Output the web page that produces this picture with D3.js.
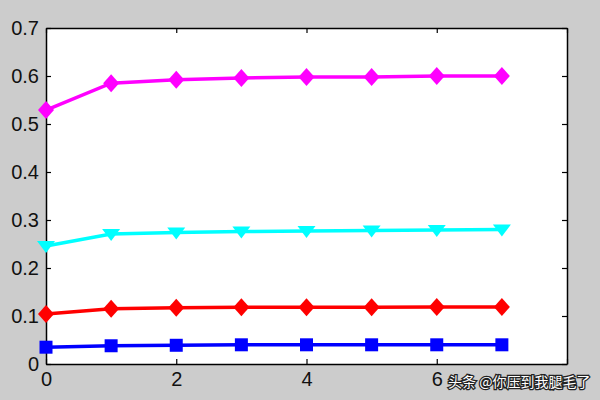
<!DOCTYPE html>
<html>
<head>
<meta charset="utf-8">
<script src="https://cdn.jsdelivr.net/npm/d3@7"></script>
<style>
  body { margin: 0; background: #cccccc; }
  text { font-family: "Liberation Sans", Arial, sans-serif; }
</style>
</head>
<body>
<div id="chart"></div>
<script>
// --- data ---
const xs = [0, 1, 2, 3, 4, 5, 6, 7];
const magenta = [0.529, 0.585, 0.592, 0.596, 0.598, 0.598, 0.600, 0.600];
const cyan    = [0.246, 0.271, 0.274, 0.276, 0.277, 0.278, 0.279, 0.280];
const red     = [0.104, 0.115, 0.117, 0.118, 0.118, 0.118, 0.119, 0.119];
const blue    = [0.035, 0.038, 0.039, 0.040, 0.040, 0.040, 0.040, 0.040];
const xTicks = [0, 2, 4, 6, 8];
const xTickLabels = ["0", "2", "4", "6", ""];   // "8" hidden under the overlay in the source
const yTicks = [0, 0.1, 0.2, 0.3, 0.4, 0.5, 0.6, 0.7];
const watermark = "头条 @你压到我腿毛了";

// --- sizing ---
const W = 600, H = 400;
const margin = { top: 28, right: 33, bottom: 36, left: 46 },
      width  = W - margin.left - margin.right,
      height = H - margin.top - margin.bottom;

const root = d3.select("#chart").append("svg")
  .attr("width", W).attr("height", H);

root.append("rect").attr("width", W).attr("height", H).attr("fill", "#cccccc");

const svg = root.append("g")
  .attr("transform", `translate(${margin.left},${margin.top})`);

svg.append("rect").attr("width", width).attr("height", height).attr("fill", "#fff");

const x = d3.scaleLinear().domain([0, 8]).range([0, width]);
const y = d3.scaleLinear().domain([0, 0.7]).range([height, 0]);

// axes (MATLAB-style box with inward ticks)
const fmtY = d => d === 0 ? "0" : d3.format(".1f")(d);
const axisStyle = g => {
  g.selectAll(".domain").attr("stroke", "#000").attr("stroke-width", 1.5);
  g.selectAll(".tick line").attr("stroke", "#000").attr("stroke-width", 1.2);
  g.selectAll("text").attr("font-size", 20).attr("fill", "#111")
    .style("font-family", "'Liberation Sans', Arial, sans-serif");
};

svg.append("g").attr("transform", `translate(0,${height})`)
  .call(d3.axisBottom(x).tickValues(xTicks).tickFormat((d, i) => xTickLabels[i])
    .tickSizeInner(-5).tickSizeOuter(0).tickPadding(8))
  .call(axisStyle);
svg.append("g")
  .call(d3.axisLeft(y).tickValues(yTicks).tickFormat(fmtY).tickSizeInner(-5).tickSizeOuter(0).tickPadding(7))
  .call(axisStyle);
svg.append("g")
  .call(d3.axisTop(x).tickValues(xTicks).tickSizeInner(-5).tickSizeOuter(0).tickFormat(""))
  .call(axisStyle);
svg.append("g").attr("transform", `translate(${width},0)`)
  .call(d3.axisRight(y).tickValues(yTicks).tickSizeInner(-5).tickSizeOuter(0).tickFormat(""))
  .call(axisStyle);

// --- series ---
const series = [
  { vals: magenta, color: "#ff00ff", shape: "diamond" },
  { vals: cyan,    color: "#00ffff", shape: "tri" },
  { vals: red,     color: "#ff0000", shape: "diamond" },
  { vals: blue,    color: "#0000ff", shape: "square" }
];

const line = d3.line().x((d, i) => x(xs[i])).y(d => y(d));

const markerPath = {
  diamond: "M0,-9L8,0L0,9L-8,0Z",
  tri: "M-9,-5L9,-5L0,7Z",
  square: "M-6.5,-6.5L6.5,-6.5L6.5,6.5L-6.5,6.5Z"
};

series.forEach(s => {
  svg.append("path")
    .attr("d", line(s.vals))
    .attr("fill", "none")
    .attr("stroke", s.color)
    .attr("stroke-width", 3.5);
  svg.selectAll(null).data(s.vals).enter().append("path")
    .attr("d", markerPath[s.shape])
    .attr("transform", (d, i) => `translate(${x(xs[i])},${y(d)})`)
    .attr("fill", s.color);
});

// watermark
root.append("text")
  .attr("x", 448).attr("y", 387)
  .attr("font-size", 14)
  .attr("fill", "#ffffff")
  .attr("stroke", "#222")
  .attr("stroke-width", 2.5)
  .attr("paint-order", "stroke")
  .style("font-family", "'Noto Sans CJK SC', sans-serif")
  .text(watermark);
</script>
</body>
</html>
